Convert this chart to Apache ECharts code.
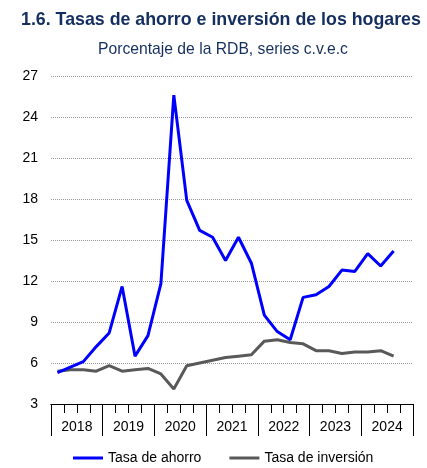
<!DOCTYPE html>
<html><head><meta charset="utf-8">
<script src="https://cdn.jsdelivr.net/npm/echarts@6/dist/echarts.min.js"></script>
<style>html,body{margin:0;padding:0;background:#fff}#c{width:427px;height:468px}</style>
</head><body><div id="c"></div>
<script>
var years = ['2018','2019','2020','2021','2022','2023','2024'];
var quarters = [];
years.forEach(function(y){ ['T1','T2','T3','T4'].forEach(function(q){ quarters.push(y+' '+q); }); });
var ahorro = [5.3,5.7,6.1,7.2,8.2,11.6,6.5,8.0,11.8,25.6,17.9,15.7,15.2,13.5,15.2,13.3,9.5,8.3,7.7,10.8,11.0,11.6,12.8,12.7,14.0,13.1,14.2];
var inversion = [5.4,5.5,5.5,5.4,5.8,5.4,5.5,5.6,5.2,4.1,5.8,6.0,6.2,6.4,6.5,6.6,7.6,7.7,7.5,7.4,6.9,6.9,6.7,6.8,6.8,6.9,6.5];
var yTicks = [3,6,9,12,15,18,21,24,27];

var font = 'Liberation Sans, Arial, sans-serif';
var chart = echarts.init(document.getElementById('c'), null, {renderer:'canvas'});
chart.setOption({
  animation:false,
  title:[{text:'1.6. Tasas de ahorro e inversión de los hogares', left:16, top:6,
          textStyle:{fontFamily:font,fontSize:17.8,fontWeight:'bold',color:'#142f5f'}},
         {text:'Porcentaje de la RDB, series c.v.e.c', left:93, top:37,
          textStyle:{fontFamily:font,fontSize:15.7,fontWeight:'normal',color:'#142f5f'}}],
  legend:{bottom:3, left:73, padding:0, itemWidth:30, itemHeight:3, itemGap:28, icon:'rect',
          textStyle:{fontFamily:font,fontSize:14,color:'#000'},
          data:['Tasa de ahorro','Tasa de inversión']},
  grid:{left:51, right:14, top:76, bottom:64},
  xAxis:[{type:'category', data:quarters, boundaryGap:true,
          axisLine:{show:true,onZero:false,lineStyle:{color:'#000',width:1}},
          axisTick:{show:true,interval:0,length:9,lineStyle:{color:'#000',width:1}},
          axisLabel:{show:false}, splitLine:{show:false}},
         {type:'category', data:years, boundaryGap:true, position:'bottom',
          axisLine:{show:true,onZero:false,lineStyle:{color:'#000',width:1}},
          axisTick:{show:true,interval:0,length:32,lineStyle:{color:'#000',width:1}},
          axisLabel:{interval:0,margin:16,fontFamily:font,fontSize:14,color:'#000'},
          splitLine:{show:false}}],
  yAxis:{type:'value', min:yTicks[0], max:yTicks[yTicks.length-1], interval:3,
         axisLine:{show:false}, axisTick:{show:false},
         axisLabel:{margin:13,fontFamily:font,fontSize:14,color:'#000'},
         splitLine:{lineStyle:{color:'#999',type:[1,1],width:1}}},
  series:[{name:'Tasa de ahorro', type:'line', xAxisIndex:0, data:ahorro, symbol:'none',
           lineStyle:{color:'#0000ff',width:3}, itemStyle:{color:'#0000ff'}, z:3},
          {name:'Tasa de inversión', type:'line', xAxisIndex:0, data:inversion, symbol:'none',
           lineStyle:{color:'#595959',width:3}, itemStyle:{color:'#595959'}, z:2}]
});
</script></body></html>
